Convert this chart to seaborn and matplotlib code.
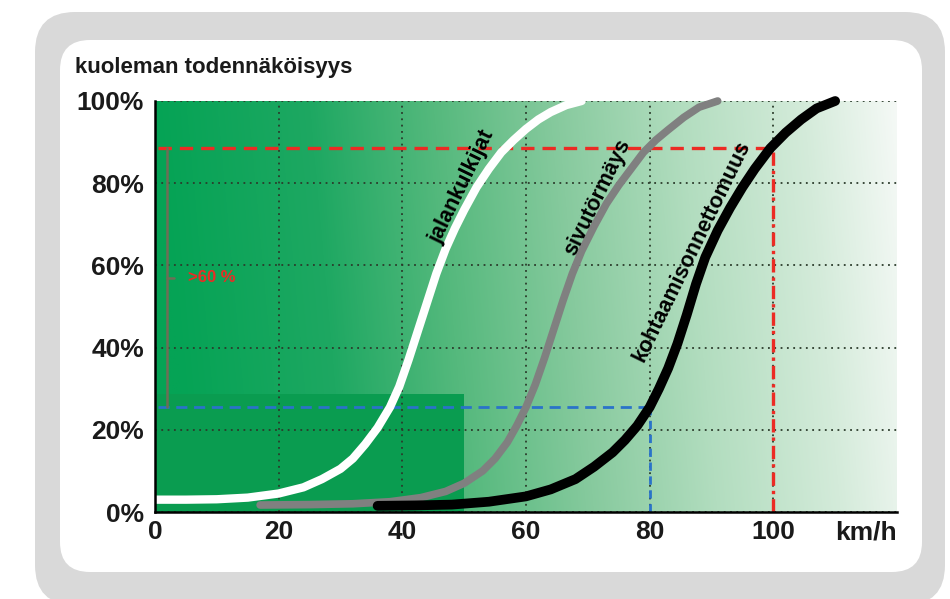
import numpy as np
import pandas as pd
import matplotlib
matplotlib.use("Agg")
import matplotlib.pyplot as plt
from matplotlib.patches import FancyBboxPatch
import seaborn as sns

# nopeus (km/h) ja kuoleman todennakoisyys (%) luettuna kuvasta
jalankulkijat_x = [0, 5, 10, 15, 20, 24, 27, 30, 32, 34, 36, 38, 39.5, 41, 42.5, 44, 45.5, 47, 48.5, 50, 52, 54, 56, 58, 60, 62, 64, 66.5, 69]
jalankulkijat_y = [3, 3, 3.1, 3.5, 4.5, 6, 8, 10.5, 13, 16.5, 20.5, 25.5, 30.5, 37, 44, 51, 58, 64, 69, 73.5, 79, 83.5, 87.5, 90.5, 93.2, 95.5, 97.3, 99, 100]

sivu_x = [17, 25, 32, 38, 43, 47, 50, 53, 55, 57, 58.5, 60, 61.5, 63, 64.5, 66, 67.5, 69, 71, 73, 75, 77, 79, 81, 83, 85.5, 88, 91]
sivu_y = [1.7, 1.8, 2, 2.5, 3.5, 5, 7, 10, 13, 17, 21, 25.5, 31, 37.5, 44.5, 51.5, 58, 63.5, 69.5, 75, 79.5, 83.5, 87.5, 90.5, 93, 96, 98.5, 100]

kohtaamis_x = [36, 42, 48, 54, 60, 64, 68, 71, 74, 76, 78, 80, 81.5, 83, 84.5, 86, 87.5, 89, 91, 93, 95, 97, 99.5, 102, 104.5, 107, 110]
kohtaamis_y = [1.5, 1.6, 1.8, 2.5, 3.8, 5.5, 8, 11, 14.5, 17.5, 21, 25.5, 30, 35, 41, 48, 55.5, 62, 68.5, 74, 79, 83.5, 88.5, 92.3, 95.5, 98.2, 100]

x_ticks = [0, 20, 40, 60, 80, 100]
y_ticks = [0, 20, 40, 60, 80, 100]
y_labels = ["0%", "20%", "40%", "60%", "80%", "100%"]

red_speed, red_prob = 100, 88.5
blue_speed, blue_prob = 80, 25.5
zone_x = [0, 50]
zone_top = 28.7

sns.set_theme(style="white")
plt.rcParams["font.family"] = ["Liberation Sans", "DejaVu Sans"]
plt.rcParams["font.weight"] = "bold"

fig = plt.figure(figsize=(9.5, 5.99), dpi=100)
fig.patch.set_facecolor("white")

# taustapaneelit
fig.patches.append(FancyBboxPatch((0.35, -0.06), 9.10, 5.93, boxstyle="round,pad=0,rounding_size=0.4",
                                  transform=fig.dpi_scale_trans, fc="#d9d9d9", ec="none", zorder=-2))
fig.patches.append(FancyBboxPatch((0.60, 0.27), 8.62, 5.32, boxstyle="round,pad=0,rounding_size=0.3",
                                  transform=fig.dpi_scale_trans, fc="white", ec="none", zorder=-1))

ax = fig.add_axes([155 / 950, 1 - 512 / 599, (897 - 155) / 950, (512 - 101) / 599])
ax.set_facecolor("none")

# vihrea liukuvari
gx = np.linspace(0, 120, 600)
gy = np.linspace(0, 100, 200)
GX, GY = np.meshgrid(gx, gy)
pos = GX - 6 * (1 - GY / 100)
stops = [0, 25, 45, 65, 85, 105, 120]
cols = np.array([(5, 163, 85), (30, 168, 98), (85, 185, 125), (135, 202, 158),
                 (178, 221, 191), (212, 235, 218), (245, 249, 246)]) / 255
img = np.dstack([np.interp(pos, stops, cols[:, i]) for i in range(3)])
ax.imshow(img, extent=[0, 120, 0, 100], origin="lower", aspect="auto", zorder=0.1)

ax.fill_between(zone_x, 0, zone_top, color="#0a9c50", lw=0, zorder=0.3)

ax.set_axisbelow(True)
ax.grid(True, color="#2b3b2b", ls=(0, (1, 2.5)), lw=1.3)

# viitelinjat
red = "#ec2b24"
blue = "#2a73c9"
ax.plot([0.5, red_speed], [red_prob, red_prob], color=red, lw=2.4, dashes=(4, 2.4), zorder=2)
ax.plot([red_speed, red_speed], [0, red_prob], color=red, lw=2.4, dashes=(4, 1.5, 1, 1.5), zorder=2)
ax.plot([0.5, blue_speed], [blue_prob, blue_prob], color=blue, lw=2.0, dashes=(4, 2.4), zorder=2)
ax.plot([blue_speed, blue_speed], [0, blue_prob], color=blue, lw=2.0, dashes=(3, 2), zorder=2)

# >60 % sulkeet
ax.plot([1.9, 1.9], [blue_prob, red_prob], color="#6e6e56", lw=1.8, zorder=2)
ax.plot([1.9, 3.1], [57, 57], color="#6e6e56", lw=1.8, zorder=2)
ax.text(5.3, 57, ">60 %", color=red, fontsize=12, fontweight="bold", va="center", ha="left")

# kayrat
curve = dict(ax=ax, estimator=None, sort=False, clip_on=False,
             solid_capstyle="round", solid_joinstyle="round")
sns.lineplot(x=sivu_x, y=sivu_y, color="#808080", lw=5.5, zorder=3, **curve)
sns.lineplot(x=kohtaamis_x, y=kohtaamis_y, color="black", lw=7, zorder=3, **curve)
sns.lineplot(x=jalankulkijat_x, y=jalankulkijat_y, color="white", lw=6, zorder=4, **curve)

lab = dict(fontsize=15.5, fontweight="bold", color="black", ha="center", va="center",
           rotation_mode="anchor", zorder=5)
ax.text(49.7, 79, "jalankulkijat", rotation=64, **lab)
ax.text(71.5, 76.5, "sivutörmäys", rotation=64, **lab)
ax.text(86.9, 63.5, "kohtaamisonnettomuus", rotation=64, **lab)

ax.set_xlim(0, 120)
ax.set_ylim(0, 100)
ax.set_xticks(x_ticks)
ax.set_xticklabels([str(v) for v in x_ticks])
ax.set_yticks(y_ticks)
ax.set_yticklabels(y_labels)
ax.tick_params(axis="both", length=0, labelsize=19, labelcolor="#1a1a1a")
ax.tick_params(axis="x", pad=6)
ax.tick_params(axis="y", pad=8)
for t in ax.get_xticklabels() + ax.get_yticklabels():
    t.set_fontweight("bold")
ax.set_xlabel("")
ax.set_ylabel("")

for s in ["top", "right"]:
    ax.spines[s].set_visible(False)
for s in ["left", "bottom"]:
    ax.spines[s].set_color("black")
    ax.spines[s].set_linewidth(1.8)
    ax.spines[s].set_zorder(6)

ax.annotate("km/h", xy=(115, 0), xycoords=("data", "axes fraction"), xytext=(0, -6),
            textcoords="offset points", ha="center", va="top", fontsize=19, fontweight="bold",
            color="#1a1a1a")

fig.text(75 / 950, 1 - 68 / 599, "kuoleman todennäköisyys", fontsize=16, fontweight="bold",
         color="#1a1a1a", ha="left", va="center")

fig.savefig("out.png", dpi=100)
